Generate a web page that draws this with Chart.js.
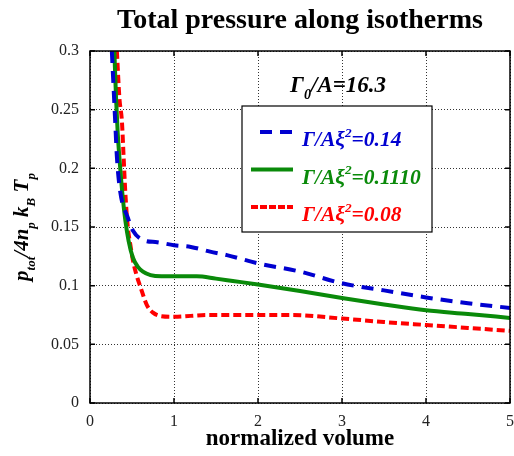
<!DOCTYPE html>
<html>
<head>
<meta charset="utf-8">
<script src="https://cdn.jsdelivr.net/npm/chart.js@4"></script>
<style>
  body { margin: 0; background: #fff; }
  #wrap { width: 514px; height: 456px; position: relative; }
</style>
</head>
<body>
<div id="wrap"><canvas id="chart"></canvas></div>
<script>
// isotherm  Γ/Aξ² = 0.14
var blueV = [0.26, 0.28, 0.30, 0.32, 0.36, 0.45, 0.51, 0.63, 0.80, 1.0, 1.2, 1.43, 1.63, 2.0, 2.5, 3.0, 3.5, 4.0, 4.5, 5.0];
var blueP = [0.300, 0.270, 0.240, 0.210, 0.180, 0.158, 0.147, 0.139, 0.137, 0.1345, 0.133, 0.129, 0.126, 0.119, 0.112, 0.102, 0.096, 0.090, 0.085, 0.081];
// Γ/Aξ² = 0.1110
var greenV = [0.29, 0.31, 0.33, 0.36, 0.39, 0.42, 0.46, 0.51, 0.57, 0.63, 0.72, 0.85, 1.0, 1.27, 1.5, 1.7, 2.0, 2.5, 3.0, 3.5, 4.0, 4.5, 5.0];
var greenP = [0.300, 0.260, 0.230, 0.200, 0.175, 0.156, 0.138, 0.124, 0.116, 0.112, 0.109, 0.108, 0.108, 0.108, 0.106, 0.104, 0.101, 0.0955, 0.0895, 0.084, 0.079, 0.0759, 0.0725];
// Γ/Aξ² = 0.08
var redV = [0.32, 0.35, 0.38, 0.40, 0.42, 0.45, 0.48, 0.51, 0.55, 0.60, 0.68, 0.75, 0.85, 1.0, 1.4, 2.0, 2.4, 3.0, 3.5, 4.0, 4.5, 5.0];
var redP = [0.300, 0.260, 0.240, 0.210, 0.180, 0.150, 0.135, 0.122, 0.110, 0.099, 0.083, 0.077, 0.074, 0.0735, 0.075, 0.075, 0.075, 0.072, 0.069, 0.0665, 0.064, 0.0615];

var xTicks = [0, 1, 2, 3, 4, 5];
var yTicks = [0, 0.05, 0.1, 0.15, 0.2, 0.25, 0.3];
var labels = ['\u0393/A\u03be\u00b2=0.14', '\u0393/A\u03be\u00b2=0.1110', '\u0393/A\u03be\u00b2=0.08'];

function pts(v, p) {
  var out = [];
  for (var i = 0; i < v.length; i++) out.push({x: v[i], y: p[i]});
  return out;
}

var serif = "'Liberation Serif', 'DejaVu Serif', serif";

// draws a list of [text, 0 | -1 sub | 1 sup] runs starting at x
function drawRuns(ctx, runs, x, y, size, measureOnly) {
  var w = 0;
  runs.forEach(function (r) {
    var s = r[1] ? size * 0.62 : size;
    ctx.font = 'italic bold ' + s + 'px ' + serif;
    var dy = r[1] == -1 ? size * 0.32 : (r[1] == 1 ? -size * 0.42 : 0);
    if (!measureOnly) ctx.fillText(r[0], x + w, y + dy);
    w += ctx.measureText(r[0]).width;
  });
  return w;
}

var decor = {
  id: 'decor',
  afterDatasetsDraw: function (chart) {
    var ctx = chart.ctx, a = chart.chartArea;
    var xs = chart.scales.x, ys = chart.scales.y;
    ctx.save();
    // frame with inward tick marks on all four sides
    ctx.strokeStyle = '#000';
    ctx.lineWidth = 1.5;
    ctx.strokeRect(a.left, a.top, a.right - a.left, a.bottom - a.top);
    ctx.beginPath();
    xTicks.forEach(function (v) {
      var px = xs.getPixelForValue(v);
      ctx.moveTo(px, a.bottom); ctx.lineTo(px, a.bottom - 5);
      ctx.moveTo(px, a.top); ctx.lineTo(px, a.top + 5);
    });
    yTicks.forEach(function (v) {
      var py = ys.getPixelForValue(v);
      ctx.moveTo(a.left, py); ctx.lineTo(a.left + 5, py);
      ctx.moveTo(a.right, py); ctx.lineTo(a.right - 5, py);
    });
    ctx.stroke();

    // title
    ctx.fillStyle = '#000';
    ctx.textAlign = 'center';
    ctx.textBaseline = 'alphabetic';
    ctx.font = 'bold 28px ' + serif;
    ctx.fillText('Total pressure along isotherms', (a.left + a.right) / 2, 28);

    ctx.textAlign = 'left';
    // Γ0/A annotation
    drawRuns(ctx, [['\u0393', 0], ['0', -1], ['/A=16.3', 0]], 290, 92, 23);

    // legend box
    ctx.fillStyle = '#fff';
    ctx.fillRect(242, 106, 190, 126);
    ctx.strokeStyle = '#000';
    ctx.lineWidth = 1.2;
    ctx.strokeRect(242, 106, 190, 126);
    chart.data.datasets.forEach(function (ds, i) {
      var ly = 132 + i * 37.5;
      ctx.strokeStyle = ds.borderColor;
      ctx.lineWidth = 4;
      ctx.setLineDash(ds.legendDash || []);
      ctx.beginPath();
      ctx.moveTo(i == 0 ? 260 : 251, ly);
      ctx.lineTo(293, ly);
      ctx.stroke();
      ctx.setLineDash([]);
      ctx.fillStyle = ds.borderColor;
      var t = ds.label.split('\u00b2');
      drawRuns(ctx, [[t[0], 0], ['2', 1], [t[1], 0]], 302, ly + 14, 21.5);
    });

    // y axis title, rotated
    ctx.fillStyle = '#000';
    var yr = [['p', 0], ['tot', -1], ['/4n', 0], ['p', -1], [' k', 0], ['B', -1], [' T', 0], ['p', -1]];
    ctx.translate(28, (a.top + a.bottom) / 2);
    ctx.rotate(-Math.PI / 2);
    var w = drawRuns(ctx, yr, 0, 0, 21, true);
    drawRuns(ctx, yr, -w / 2, 0, 21);
    ctx.restore();
  }
};

new Chart(document.getElementById('chart'), {
  type: 'line',
  data: {
    datasets: [
      {
        label: labels[0],
        data: pts(blueV, blueP),
        borderColor: '#0000d0',
        borderDash: [12, 8],
        legendDash: [12, 8]
      },
      {
        label: labels[1],
        data: pts(greenV, greenP),
        borderColor: '#0a8a0a'
      },
      {
        label: labels[2],
        data: pts(redV, redP),
        borderColor: '#ff0000',
        borderDash: [8, 4],
        legendDash: [7, 2]
      }
    ]
  },
  options: {
    responsive: true,
    maintainAspectRatio: false,
    animation: false,
    layout: { autoPadding: false, padding: { top: 51, right: 4, left: 0, bottom: 0 } },
    elements: {
      point: { radius: 0 },
      line: { borderWidth: 4, cubicInterpolationMode: 'monotone', fill: false }
    },
    plugins: {
      legend: { display: false },
      title: { display: false },
      tooltip: { enabled: false }
    },
    scales: {
      x: {
        type: 'linear',
        min: 0,
        max: 5,
        afterFit: function (s) { s.height = 53; s.paddingLeft = 0; s.paddingRight = 0; },
        afterBuildTicks: function (s) { s.ticks = xTicks.map(function (v) { return {value: v}; }); },
        grid: { color: '#333', lineWidth: 1, drawTicks: false },
        border: { display: false, dash: [1, 2] },
        ticks: { color: '#222', padding: 9, maxRotation: 0, font: { family: serif, size: 16 } },
        title: {
          display: true,
          text: 'normalized volume',
          color: '#000',
          padding: { top: 0, bottom: 3 },
          font: { family: serif, size: 23, weight: 'bold' }
        }
      },
      y: {
        min: 0,
        max: 0.3,
        afterFit: function (s) { s.width = 90; s.paddingTop = 0; s.paddingBottom = 0; },
        afterBuildTicks: function (s) { s.ticks = yTicks.map(function (v) { return {value: v}; }); },
        grid: { color: '#333', lineWidth: 1, drawTicks: false },
        border: { display: false, dash: [1, 2] },
        ticks: {
          color: '#222',
          padding: 11,
          font: { family: serif, size: 16 },
          callback: function (v) { return String(+v.toFixed(2)); }
        }
      }
    }
  },
  plugins: [decor]
});
</script>
</body>
</html>
